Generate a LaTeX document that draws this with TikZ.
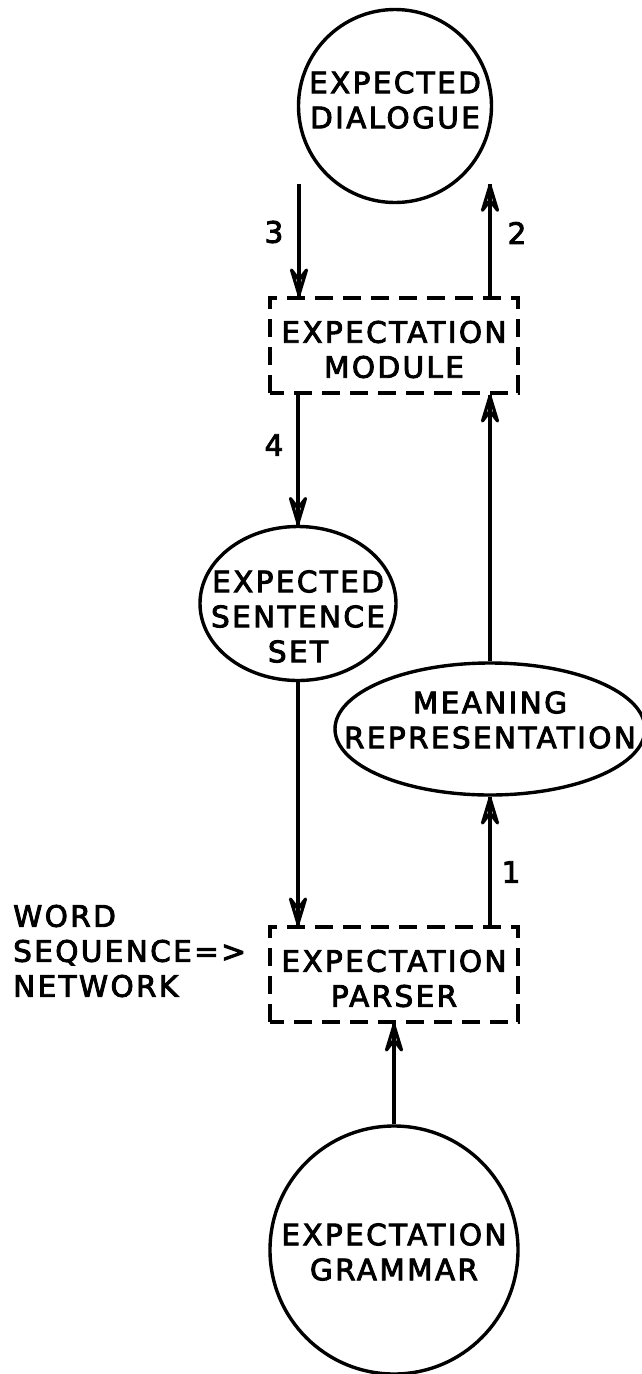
\documentclass[tikz,border=0pt]{standalone}
\usepackage{fontspec}
\usetikzlibrary{arrows.meta,shapes.geometric}
\newfontfamily\lettering[LetterSpace=8,FakeBold=3]{DejaVu Sans}

\tikzset{
  x=1pt, y=-1pt,
  every node/.style={font=\lettering\fontsize{29.5}{35}\selectfont, align=center, inner sep=0pt},
  ink/.style={line width=3.4pt},
  roundbox/.style={ink, draw, circle},
  ovalbox/.style={ink, draw, ellipse},
  dashbox/.style={ink, draw, rectangle, dash pattern=on 18pt off 10pt, dash phase=4pt,
                  minimum width=248pt, minimum height=95pt},
  flow/.style={ink, -{Stealth[open, round, length=38pt, width=23pt, inset=15pt, line width=3.2pt]},
               postaction={draw, ink, -}},
  flowlabel/.style={font=\lettering\fontsize{29.5}{35}\selectfont}
}

\begin{document}
\begin{tikzpicture}
\useasboundingbox (0,0) rectangle (641,1374);

% shapes
\node[roundbox, minimum size=193pt] (ed) at (395,106) {};
\node[dashbox] (em) at (394,345.5) {};
\node[ovalbox, minimum width=196pt, minimum height=154pt] (ess) at (298,603.5) {};
\node[ovalbox, minimum width=310pt, minimum height=132pt] (mr) at (490,729) {};
\node[dashbox] (ep) at (394,974.5) {};
\node[roundbox, minimum size=248pt] (eg) at (394,1250) {};

% their lettering
\node (ed-text)  at ([yshift=6pt]ed.center)    {EXPECTED\\DIALOGUE};
\node (em-text)  at ([yshift=-4pt]em.center)   {EXPECTATION\\MODULE};
\node (ess-text) at ([yshift=-13pt]ess.center) {EXPECTED\\SENTENCE\\SET};
\node (mr-text)  at ([yshift=9pt]mr.center)    {MEANING\\REPRESENTATION};
\node (ep-text)  at ([yshift=-4pt]ep.center)   {EXPECTATION\\PARSER};
\node (eg-text)  at ([yshift=-2pt]eg.center)   {EXPECTATION\\GRAMMAR};

\node[anchor=west, align=left] (word) at (13,951) {WORD\\SEQUENCE=>\\NETWORK};

% free ends of the dialogue arrows
\coordinate (d3) at (299,184);
\coordinate (d2) at (490,184);

% connectors
\draw[flow] (d3) -- (d3 |- em.north);
\draw[flow] (em.north -| d2) -- (d2);
\draw[flow] (em.south -| ess.north) -- (ess.north);
\draw[flow] (ess.south) -- (ess.south |- ep.north);
\draw[flow] (mr.north) -- (mr.north |- em.south);
\draw[flow] (ep.north -| mr.south) -- (mr.south);
\draw[flow] (eg.north) -- (eg.north |- ep.south);

% step numbers
\node[flowlabel] (n3) at (274,232) {3};
\node[flowlabel] (n2) at (517,233) {2};
\node[flowlabel] (n4) at (274,445) {4};
\node[flowlabel] (n1) at (511,872) {1};
\end{tikzpicture}
\end{document}
